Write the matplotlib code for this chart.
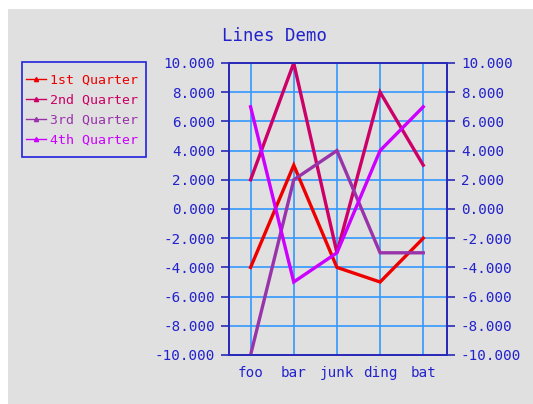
import matplotlib
matplotlib.use("Agg")
import matplotlib.pyplot as plt
from matplotlib.lines import Line2D
from matplotlib.patches import Rectangle

categories = ["foo", "bar", "junk", "ding", "bat"]
q1 = [-4, 3, -4, -5, -2]
q2 = [2, 10, -3, 8, 3]
q3 = [-10, 2, 4, -3, -3]
q4 = [7, -5, -3, 4, 7]
series_names = ["1st Quarter", "2nd Quarter", "3rd Quarter", "4th Quarter"]
series = [q1, q2, q3, q4]
colors = ["#ee0000", "#cc0066", "#9933aa", "#cc00ff"]
yticks = list(range(-10, 11, 2))

W, H = 533, 404
fig = plt.figure(figsize=(W / 100, H / 100), dpi=100, facecolor="white")
fig.patches.append(Rectangle((8 / W, 0), 1, 1 - 9 / H, transform=fig.transFigure,
                             facecolor="#e0e0e0", edgecolor="none", zorder=-10))

font = "DejaVu Sans Mono"
blue = "#2222cc"
spine_c = "#2a2ab8"
grid_c = "#3399ff"

ax = fig.add_axes([229 / W, 1 - 355 / H, (447 - 229) / W, (355 - 63) / H])
ax.set_facecolor("#e0e0e0")
x = list(range(len(categories)))
for name, vals, c in zip(series_names, series, colors):
    ax.plot(x, vals, color=c, lw=2.4, solid_joinstyle="miter", zorder=3)

ax.set_xlim(-0.5, 4.55)
ax.set_ylim(-10, 10)
ax.set_yticks(yticks)
ax.set_yticklabels([f"{v:.3f}" for v in yticks], family=font, fontsize=10.3, color=blue)
ax.set_xticks(x)
ax.set_xticklabels(categories, family=font, fontsize=10.3, color=blue)
ax.tick_params(axis="x", length=0, pad=8)
ax.tick_params(axis="y", length=6, width=1.2, color=spine_c, pad=4, direction="out")
ax.grid(True, color=grid_c, lw=1.2, zorder=1)
for s in ax.spines.values():
    s.set_color(spine_c)
    s.set_linewidth(1.3)

ax2 = ax.twinx()
ax2.set_ylim(-10, 10)
ax2.set_yticks(yticks)
ax2.set_yticklabels([f"{v:.3f}" for v in yticks], family=font, fontsize=10.3, color=blue)
ax2.tick_params(axis="y", length=6, width=1.2, color=spine_c, pad=4, direction="out")
for s in ax2.spines.values():
    s.set_color(spine_c)
    s.set_linewidth(1.3)

fig.text(275 / W, 1 - 36 / H, "Lines Demo", family=font, fontsize=12.5, color=blue,
         ha="center", va="center")

# legend frame drawn separately for exact padding
fig.patches.append(Rectangle((22 / W, 1 - 157 / H), (146 - 22) / W, (157 - 62) / H,
                             transform=fig.transFigure, facecolor="none",
                             edgecolor="#2222dd", lw=1.2, zorder=5))
handles = [Line2D([0], [0], color=c, lw=1, marker="^", ms=3) for c in colors]
leg = fig.legend(handles, series_names, loc="upper left",
                 bbox_to_anchor=(26 / W, 1 - 74 / H), prop={"family": font, "size": 9.5},
                 frameon=False, handlelength=1.55, handletextpad=0.3,
                 borderpad=0, labelspacing=0.52, borderaxespad=0)
for t, c in zip(leg.get_texts(), colors):
    t.set_color(c)

fig.savefig("out.png", dpi=100, facecolor="white")
